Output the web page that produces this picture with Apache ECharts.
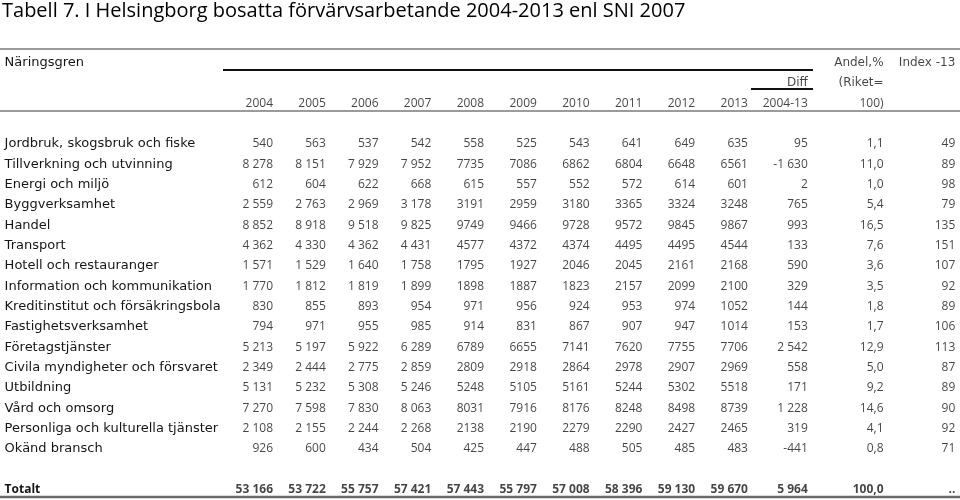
<!DOCTYPE html>
<html>
<head>
<meta charset="utf-8">
<script src="https://cdn.jsdelivr.net/npm/echarts@6/dist/echarts.min.js"></script>
<style>html,body{margin:0;padding:0;background:#fff}#c{width:960px;height:500px}</style>
</head>
<body>
<div id="c"></div>
<script>
const titleText = 'Tabell 7. I Helsingborg bosatta förvärvsarbetande 2004-2013 enl SNI 2007';
const sectors = ['Jordbruk, skogsbruk och fiske','Tillverkning och utvinning','Energi och miljö','Byggverksamhet','Handel','Transport','Hotell och restauranger','Information och kommunikation','Kreditinstitut och försäkringsbola','Fastighetsverksamhet','Företagstjänster','Civila myndigheter och försvaret','Utbildning','Vård och omsorg','Personliga och kulturella tjänster','Okänd bransch'];
const years = ['2004','2005','2006','2007','2008','2009','2010','2011','2012','2013'];
const v2004 = [540, 8278, 612, 2559, 8852, 4362, 1571, 1770, 830, 794, 5213, 2349, 5131, 7270, 2108, 926];
const v2005 = [563, 8151, 604, 2763, 8918, 4330, 1529, 1812, 855, 971, 5197, 2444, 5232, 7598, 2155, 600];
const v2006 = [537, 7929, 622, 2969, 9518, 4362, 1640, 1819, 893, 955, 5922, 2775, 5308, 7830, 2244, 434];
const v2007 = [542, 7952, 668, 3178, 9825, 4431, 1758, 1899, 954, 985, 6289, 2859, 5246, 8063, 2268, 504];
const v2008 = [558, 7735, 615, 3191, 9749, 4577, 1795, 1898, 971, 914, 6789, 2809, 5248, 8031, 2138, 425];
const v2009 = [525, 7086, 557, 2959, 9466, 4372, 1927, 1887, 956, 831, 6655, 2918, 5105, 7916, 2190, 447];
const v2010 = [543, 6862, 552, 3180, 9728, 4374, 2046, 1823, 924, 867, 7141, 2864, 5161, 8176, 2279, 488];
const v2011 = [641, 6804, 572, 3365, 9572, 4495, 2045, 2157, 953, 907, 7620, 2978, 5244, 8248, 2290, 505];
const v2012 = [649, 6648, 614, 3324, 9845, 4495, 2161, 2099, 974, 947, 7755, 2907, 5302, 8498, 2427, 485];
const v2013 = [635, 6561, 601, 3248, 9867, 4544, 2168, 2100, 1052, 1014, 7706, 2969, 5518, 8739, 2465, 483];
const diff = [95, -1630, 2, 765, 993, 133, 590, 329, 144, 153, 2542, 558, 171, 1228, 319, -441];
const andel = [1.1, 11.0, 1.0, 5.4, 16.5, 7.6, 3.6, 3.5, 1.8, 1.7, 12.9, 5.0, 9.2, 14.6, 4.1, 0.8];
const index13 = [49, 89, 98, 79, 135, 151, 107, 92, 89, 106, 113, 87, 89, 90, 92, 71];
const totals = [53166, 53722, 55757, 57421, 57443, 55797, 57008, 58396, 59130, 59670];
const diffTotal = 5964;
const andelTotal = 100.0;
const indexTotal = null;

const FONT = 'Open Sans';
const LABEL_FONT = 'DejaVu Sans';
const COLOR = '#151515';
const columns = years.concat(['Diff', 'Andel', 'Index']);
const colValues = [v2004, v2005, v2006, v2007, v2008, v2009, v2010, v2011, v2012, v2013, diff, andel, index13];
const colTotals = totals.concat([diffTotal, andelTotal, indexTotal]);
const colOffset = {Diff: 7, Andel: 30, Index: 49};
const rows = ['#h1', '#h2', '#h3', '#g1'].concat(sectors, ['#g2', 'Totalt']);

function fmtInt(v, spaced) {
  let s = String(Math.abs(Math.round(v)));
  if (spaced) s = s.replace(/\B(?=(\d{3})+(?!\d))/g, ' ');
  return (v < 0 ? '-' : '') + s;
}
function fmtCell(col, ci, v, isTotal) {
  if (v === null || v === undefined) return '..';
  if (col === 'Andel') return v.toFixed(1).replace('.', ',');
  const spaced = isTotal || ci < 4 || col === 'Diff';
  return fmtInt(v, spaced);
}

const series = columns.map(function (col, ci) {
  const data = colValues[ci].map(function (v, ri) {
    return {name: fmtCell(col, ci, v, false), value: [col, sectors[ri]]};
  });
  data.push({name: fmtCell(col, ci, colTotals[ci], true), value: [col, 'Totalt'],
    label: {fontWeight: 'bold'}});
  return {
    type: 'scatter', name: col, symbolSize: 0, silent: true, data: data,
    label: {show: true, position: 'inside', align: 'right', verticalAlign: 'middle',
      formatter: '{b}', color: COLOR, fontFamily: FONT, fontSize: 12,
      offset: [colOffset[col] || 0, 0]}
  };
});

// header texts
const headerData = years.map(function (y) { return {name: y, value: [y, '#h3']}; });
[['Diff', '#h2', 'Diff', true], ['Diff', '#h3', '2004-13', false], ['Andel', '#h1', 'Andel,%', true],
 ['Andel', '#h2', '(Riket=', true], ['Andel', '#h3', '100)', false], ['Index', '#h1', 'Index -13', true]]
  .forEach(function (h) {
    const lab = {offset: [colOffset[h[0]], 0]};
    if (h[3]) lab.fontFamily = LABEL_FONT;
    headerData.push({name: h[2], value: [h[0], h[1]], label: lab});
  });
series.push({
  type: 'scatter', name: 'header', symbolSize: 0, silent: true, data: headerData,
  label: {show: true, position: 'inside', align: 'right', verticalAlign: 'middle',
    formatter: '{b}', color: COLOR, fontFamily: FONT, fontSize: 12}
});

const chart = echarts.init(document.getElementById('c'), null, {renderer: 'canvas'});
chart.setOption({
  backgroundColor: '#fff',
  animation: false,
  title: {text: titleText, left: 2, top: 1, padding: 0,
    textStyle: {fontFamily: FONT, fontSize: 20, fontWeight: 'normal', color: '#000'}},
  grid: {left: 246.6, right: 27.3, top: 52.5, bottom: 0.2, containLabel: false},
  xAxis: {type: 'category', data: columns, show: false},
  yAxis: {type: 'category', data: rows, inverse: true,
    axisLine: {show: false}, axisTick: {show: false}, splitLine: {show: false},
    axisLabel: {show: true, interval: 0, align: 'left', margin: 242, color: COLOR,
      fontFamily: LABEL_FONT, fontSize: 13,
      formatter: function (v) {
        if (v === '#h1') return 'Näringsgren';
        if (v.charAt(0) === '#') return '';
        if (v === 'Totalt') return '{b|Totalt}';
        return v;
      },
      rich: {b: {fontWeight: 'bold', fontFamily: FONT, fontSize: 12, color: COLOR}}}},
  graphic: [
    {type: 'line', shape: {x1: 0, y1: 49, x2: 960, y2: 49}, style: {stroke: '#7a7a7a', lineWidth: 1.5}},
    {type: 'line', shape: {x1: 223, y1: 70, x2: 813, y2: 70}, style: {stroke: '#111', lineWidth: 2}},
    {type: 'line', shape: {x1: 751, y1: 89, x2: 813, y2: 89}, style: {stroke: '#111', lineWidth: 2}},
    {type: 'line', shape: {x1: 0, y1: 111, x2: 960, y2: 111}, style: {stroke: '#7a7a7a', lineWidth: 1.5}},
    {type: 'line', shape: {x1: 0, y1: 497, x2: 960, y2: 497}, style: {stroke: '#6a6a6a', lineWidth: 2.5}}
  ],
  series: series
});
</script>
</body>
</html>
